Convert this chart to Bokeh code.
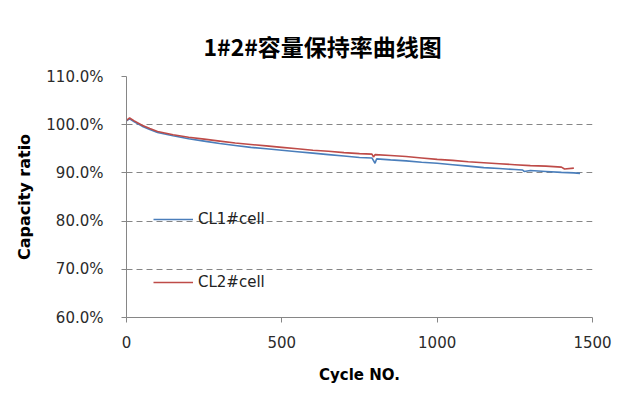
from bokeh.plotting import figure
from bokeh.models import ColumnDataSource, Legend, LegendItem, Range1d, NumeralTickFormatter, FixedTicker, Title, BoxAnnotation
from bokeh.embed import file_html
from bokeh.resources import INLINE

title_text = "1#2#容量保持率曲线图"
x_title = "Cycle NO."
y_title = "Capacity ratio"
series_names = ["CL1#cell", "CL2#cell"]

cl1_cycles = [0, 10, 25, 50, 75, 100, 150, 200, 250, 300, 350, 400, 450, 500, 550, 600, 650, 700,
              750, 790, 800, 805, 850, 900, 950, 1000, 1050, 1100, 1150, 1200, 1250, 1275, 1280,
              1300, 1350, 1400, 1440, 1460]
cl1_pct = [100.8, 101.2, 100.6, 99.7, 99.0, 98.4, 97.7, 97.1, 96.6, 96.1, 95.7, 95.3, 95.0, 94.7,
           94.4, 94.1, 93.8, 93.5, 93.2, 93.1, 92.0, 92.9, 92.7, 92.5, 92.2, 92.0, 91.7, 91.4,
           91.1, 90.9, 90.7, 90.6, 90.3, 90.5, 90.3, 90.1, 90.0, 89.9]

cl2_cycles = [0, 10, 25, 50, 75, 100, 150, 200, 250, 300, 350, 400, 450, 500, 550, 600, 650, 700,
              750, 790, 795, 800, 850, 900, 950, 1000, 1050, 1100, 1150, 1200, 1250, 1300, 1350,
              1400, 1410, 1440]
cl2_pct = [100.9, 101.4, 100.8, 99.9, 99.2, 98.6, 97.9, 97.4, 97.0, 96.6, 96.2, 95.9, 95.6, 95.3,
           95.0, 94.7, 94.5, 94.2, 94.0, 93.9, 93.3, 93.8, 93.6, 93.4, 93.1, 92.8, 92.6, 92.3,
           92.1, 91.9, 91.7, 91.5, 91.4, 91.2, 90.8, 91.0]

x_ticks = [0, 500, 1000, 1500]
y_ticks = [0.6, 0.7, 0.8, 0.9, 1.0, 1.1]

p = figure(width=627, height=395, output_backend="svg", toolbar_location=None,
           x_range=Range1d(0, 1500), y_range=Range1d(0.6, 1.1),
           min_border_left=126, min_border_right=35, min_border_top=76, min_border_bottom=78)
p.outline_line_color = None
p.background_fill_color = "white"
p.border_fill_color = "white"

t = Title(text=title_text, align="left", offset=77, text_font="Noto Sans CJK SC",
          text_font_size="23px", text_font_style="bold", text_color="#000000", standoff=28)
p.add_layout(t, "above")

frame_box = BoxAnnotation(left=6, right=700, top=5, bottom=600,
                          left_units="canvas", right_units="canvas",
                          top_units="canvas", bottom_units="canvas",
                          fill_alpha=0, line_color="#a6a6a6", line_width=2)
p.add_layout(frame_box)

src1 = ColumnDataSource(data=dict(x=cl1_cycles, y=[v / 100 for v in cl1_pct]))
src2 = ColumnDataSource(data=dict(x=cl2_cycles, y=[v / 100 for v in cl2_pct]))
r1 = p.line("x", "y", source=src1, line_color="#4a7ebb", line_width=1.6)
r2 = p.line("x", "y", source=src2, line_color="#be4b48", line_width=1.6)

for ax in (p.xaxis[0], p.yaxis[0]):
    ax.axis_line_color = "#868686"
    ax.major_tick_line_color = "#868686"
    ax.minor_tick_line_color = None
    ax.major_tick_in = 0
    ax.major_tick_out = 5
    ax.major_label_text_font = "DejaVu Sans"
    ax.major_label_text_font_size = "15px"
    ax.major_label_text_color = "#2b2b2b"
    ax.axis_label_text_font = "DejaVu Sans"
    ax.axis_label_text_font_style = "bold"
    ax.axis_label_text_color = "#000000"

p.xaxis.axis_label_text_font_size = "15px"
p.yaxis.axis_label_text_font_size = "16px"
p.xaxis.ticker = FixedTicker(ticks=x_ticks)
p.yaxis.ticker = FixedTicker(ticks=y_ticks)
p.yaxis.formatter = NumeralTickFormatter(format="0.0%")
p.xaxis.axis_label = x_title
p.yaxis.axis_label = y_title
p.xaxis.major_label_standoff = 13
p.yaxis.major_label_standoff = 18
p.xaxis.axis_label_standoff = 15
p.yaxis.axis_label_standoff = 9

p.xgrid.grid_line_color = None
p.ygrid.ticker = FixedTicker(ticks=y_ticks[1:])
p.ygrid.grid_line_color = "#868686"
p.ygrid.grid_line_dash = "6 4"
p.ygrid.grid_line_width = 1

for item, loc in ((LegendItem(label=series_names[0], renderers=[r1]), (27, 89)),
                  (LegendItem(label=series_names[1], renderers=[r2]), (27, 26))):
    lg = Legend(items=[item], location=loc, padding=0, margin=0, border_line_color=None,
                background_fill_alpha=0, glyph_width=40, glyph_height=16, label_height=16,
                label_text_font="DejaVu Sans", label_text_font_size="15px",
                label_text_color="#222222", label_standoff=5)
    p.add_layout(lg, "center")

open("out.html", "w").write(file_html(p, INLINE))
